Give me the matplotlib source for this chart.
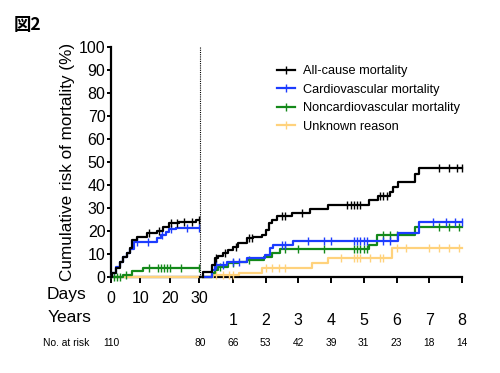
import numpy as np
import matplotlib
matplotlib.use("Agg")
import matplotlib.pyplot as plt
from matplotlib.lines import Line2D
import matplotlib.transforms as mtransforms

plt.rcParams['font.family'] = ['Liberation Sans', 'DejaVu Sans']

# ---- data ----
labels = ['All-cause mortality', 'Cardiovascular mortality',
          'Noncardiovascular mortality', 'Unknown reason']
colors = ['#000000', '#1c3cff', '#14891a', '#ffd27c']

# first 30 days (x in days, y in %)
days_all = [0, 0.5, 1.8, 3.0, 4.2, 5.4, 6.5, 7.2, 8.8, 12.2, 15.6, 17.8, 19.6, 23.0, 28.8]
risk_all_d = [0, 1.6, 3.9, 6.7, 8.8, 10.4, 12.6, 16.0, 17.5, 19.0, 20.0, 21.9, 23.3, 24.0, 24.8]
days_cv = [0, 0.5, 1.8, 3.0, 4.2, 5.4, 6.5, 7.8, 15.8, 17.0, 18.6, 19.8, 22.0]
risk_cv_d = [0, 1.6, 4.5, 6.7, 8.8, 10.4, 12.0, 15.3, 16.8, 18.3, 19.7, 20.7, 21.4]
days_ncv = [0, 4.2, 7.0, 11.0]
risk_ncv_d = [0, 0.9, 2.7, 3.8]
days_unk = [0]
risk_unk_d = [0]

cens_all_d = [13, 16.5, 20.5, 22.5, 25, 27.5, 30]
cens_cv_d = [9, 12.5, 17.5, 20.5, 26, 30]
cens_ncv_d = [1, 2, 3, 5, 13, 16, 17, 18, 19, 20, 24, 30]
cens_unk_d = []

# after 30 days (x in years, y in %)
yrs_all = [0.08, 0.1, 0.38, 0.46, 0.56, 0.71, 0.86, 1.02, 1.17, 1.43, 1.63, 1.9, 2.02,
           2.1, 2.2, 2.36, 2.8, 3.36, 3.92, 5.17, 5.45, 5.8, 5.9, 6.05, 6.56, 6.7]
risk_all_y = [0, 2.3, 5.2, 8.1, 9.1, 10.3, 11.7, 13.2, 14.6, 16.8, 17.5, 18.3, 20.4,
              23.3, 25.0, 26.5, 27.7, 29.4, 31.3, 33.5, 35.2, 37.1, 39.3, 41.4, 45.0, 47.5]
yrs_cv = [0.08, 0.36, 0.46, 0.82, 1.43, 1.98, 2.14, 2.24, 2.85, 6.06, 6.7]
risk_cv_y = [0, 3.0, 5.2, 6.7, 8.1, 9.6, 12.5, 13.9, 15.6, 19.3, 24.0]
yrs_ncv = [0.08, 0.38, 0.46, 0.56, 0.86, 1.17, 1.43, 1.95, 2.2, 2.45, 5.17, 5.4, 6.56]
risk_ncv_y = [0, 1.6, 3.0, 4.5, 6.0, 6.7, 7.4, 8.8, 10.3, 12.0, 14.0, 18.3, 21.9]
yrs_unk = [0.08, 0.4, 1.2, 1.88, 3.41, 3.92, 5.85]
risk_unk_y = [0, 0.9, 1.8, 3.8, 6.0, 8.1, 12.5]

cens_all_y = [0.5, 0.75, 1.1, 1.5, 1.58, 2.5, 2.6, 3.1, 4.5, 4.6, 4.7, 4.8, 4.9,
              5.5, 5.6, 5.7, 7.3, 7.6, 7.85, 8.0]
cens_cv_y = [0.5, 0.7, 1.0, 1.2, 2.5, 2.6, 3.3, 3.8, 4.0, 4.7, 4.8, 4.9, 5.0, 5.1,
             5.6, 5.8, 7.1, 7.5, 7.8, 8.0]
cens_ncv_y = [0.6, 1.0, 1.5, 2.6, 3.0, 3.8, 4.7, 4.8, 4.9, 5.0, 5.1, 5.6, 5.8, 6.0,
              7.3, 7.6, 7.9]
cens_unk_y = [0.5, 0.7, 0.9, 1.0, 2.0, 2.2, 2.4, 2.6, 4.3, 4.7, 4.8, 4.9, 5.2, 5.5,
              5.6, 6.0, 6.3, 7.0, 7.3, 7.6, 7.9]

risk_years = [0, 1, 2, 3, 4, 5, 6, 7, 8]
at_risk = [80, 66, 53, 42, 39, 31, 23, 18, 14]
at_risk_day0 = 110

day_ticks = [0, 10, 20, 30]
year_ticks = [1, 2, 3, 4, 5, 6, 7, 8]

left = [(days_all, risk_all_d, cens_all_d), (days_cv, risk_cv_d, cens_cv_d),
        (days_ncv, risk_ncv_d, cens_ncv_d), (days_unk, risk_unk_d, cens_unk_d)]
right = [(yrs_all, risk_all_y, cens_all_y), (yrs_cv, risk_cv_y, cens_cv_y),
         (yrs_ncv, risk_ncv_y, cens_ncv_y), (yrs_unk, risk_unk_y, cens_unk_y)]

W, H = 500, 373
fig = plt.figure(figsize=(5, 3.73), dpi=100)
ax1 = fig.add_axes([111 / W, 96 / H, 89 / W, 230 / H])
ax2 = fig.add_axes([200 / W, 96 / H, 262 / W, 230 / H])


def km(ax, t, s, cens, end, color, z):
    tt = list(t) + [end]
    ss = list(s) + [s[-1]]
    ax.step(tt, ss, where='post', color=color, lw=1.6, clip_on=False, zorder=z)
    if cens:
        idx = np.searchsorted(t, cens, side='right') - 1
        cy = np.array(s)[idx]
        ax.plot(cens, cy, ls='none', marker='|', ms=5.5, mew=1.0, color=color,
                clip_on=False, zorder=z)


for i in range(3, -1, -1):
    km(ax1, *left[i], 30, colors[i], 3 + (3 - i))
    km(ax2, *right[i], 8, colors[i], 3 + (3 - i))

for ax in (ax1, ax2):
    ax.set_ylim(0, 100)
    ax.spines['top'].set_visible(False)
    ax.spines['right'].set_visible(False)
    ax.spines['bottom'].set_linewidth(1.6)
    ax.spines['left'].set_linewidth(1.6)
    ax.patch.set_alpha(0)

ax1.set_xlim(0, 30.3)
ax1.set_xticks(day_ticks)
ax1.set_yticks(range(0, 101, 10))
ax1.tick_params(axis='x', length=4, width=1.4, pad=6, labelsize=11.5)
ax1.tick_params(axis='y', length=3, width=1.4, pad=1, labelsize=11.5)
ax1.set_ylabel('Cumulative risk of mortality (%)', fontsize=12.3, labelpad=3)

ax2.set_xlim(0, 8)
ax2.set_xticks(year_ticks)
ax2.spines['left'].set_visible(False)
ax2.set_yticks([])
ax2.tick_params(axis='x', length=4, width=1.4, pad=22, labelsize=11.5)
ax2.axvline(0, ls=(0, (1, 1)), lw=0.8, color='k', clip_on=False)

fig.text(47 / W, 1 - 294 / H, 'Days', fontsize=12.5, va='center', ha='left')
fig.text(48 / W, 1 - 318 / H, 'Years', fontsize=12.5, va='center', ha='left')
fig.text(43 / W, 1 - 343 / H, 'No. at risk', fontsize=7.4, va='center', ha='left')
fig.text(14 / W, 1 - 25 / H, '図2', fontsize=12.5, fontweight='bold', va='center',
         ha='left', family=['Noto Sans CJK JP', 'DejaVu Sans'])

tr1 = mtransforms.blended_transform_factory(ax1.transData, fig.transFigure)
tr2 = mtransforms.blended_transform_factory(ax2.transData, fig.transFigure)
ax1.text(0, 1 - 343 / H, str(at_risk_day0), transform=tr1, fontsize=7.4,
         ha='center', va='center')
for x, n in zip(risk_years, at_risk):
    ax2.text(x, 1 - 343 / H, str(n), transform=tr2, fontsize=7.4, ha='center',
             va='center')

handles = [Line2D([], [], color=c, lw=1.6, marker='|', ms=5.5, mew=1.0) for c in colors]
fig.legend(handles, labels, loc='upper left', bbox_to_anchor=(277 / W, 1 - 65 / H),
           frameon=False, fontsize=9.2, handlelength=1.4, handletextpad=0.6,
           labelspacing=0.52, borderpad=0, borderaxespad=0)

fig.savefig('out.png', dpi=100)
